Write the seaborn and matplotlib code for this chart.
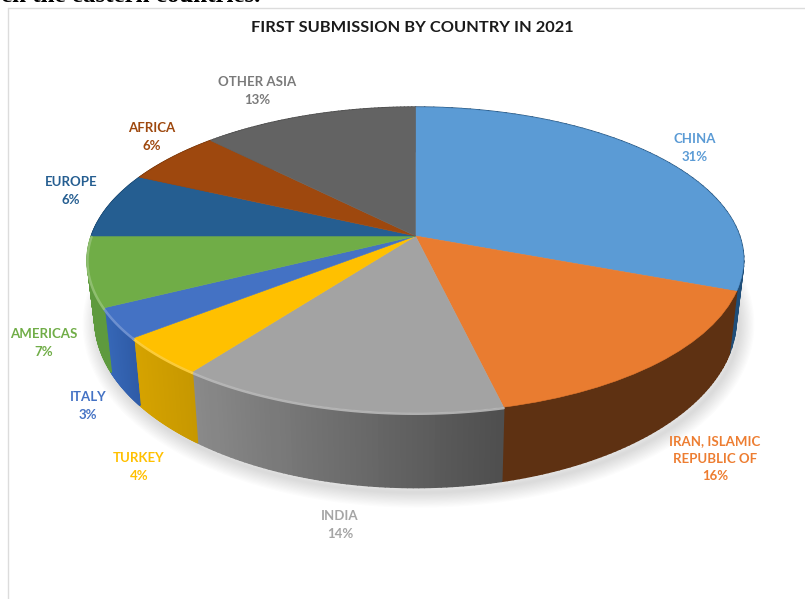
import numpy as np
import matplotlib
matplotlib.use("Agg")
import matplotlib.pyplot as plt
import seaborn as sns
from matplotlib.collections import PolyCollection
from matplotlib.colors import to_rgb
from matplotlib.transforms import Transform

# slice sizes, the printed labels are rounded
categories = ["CHINA", "IRAN, ISLAMIC\nREPUBLIC OF", "INDIA", "TURKEY", "ITALY",
              "AMERICAS", "EUROPE", "AFRICA", "OTHER ASIA"]
slice_values = [30.7, 15.6, 14.0, 4.1, 3.2, 7.4, 6.9, 5.7, 12.4]
percent_labels = ["31%", "16%", "14%", "4%", "3%", "7%", "6%", "6%", "13%"]
title_text = "FIRST SUBMISSION BY COUNTRY IN 2021"
body_text = "ch the eastern countries."

sns.set_theme(style="white")
plt.rcParams["font.family"] = ["Lato", "DejaVu Sans"]

top_colors = sns.color_palette(["#5B9BD5", "#E97C30", "#A3A3A3", "#FFC000", "#4472C4",
                                "#70AD47", "#255E91", "#9E480E", "#636363"])
# side wall colours, left end and right end of each slice
wall_colors = [("#1F4E79", "#1F4E79"), ("#5E3112", "#5E3112"), ("#8A8A8A", "#4E4E4E"),
               ("#D6A300", "#C79800"), ("#3768B8", "#2F5CA8"), ("#5E9A3E", "#5E9A3E"),
               ("#1C4A72", "#1C4A72"), ("#7A380B", "#7A380B"), ("#4A4A4A", "#4A4A4A")]
label_colors = ["#5B9BD5", "#ED7D31", "#A5A5A5", "#FFC000", "#4472C4",
                "#70AD47", "#255E91", "#9E480E", "#7A7A7A"]
label_pos = [(695, 148), (715, 459), (340, 525), (139, 467), (88, 406),
             (44, 343), (71, 191), (152, 137), (257, 91)]

CX, CY = 415.5, 236.0
RX, RY, PERSP = 324.0, 149.0, 0.157


def project(x, y):
    w = 1 + PERSP * y
    return CX + RX * x / w, CY - RY * y / w


def lower(px, py):
    # rim of the bottom face, from the top rim in pixels
    return CX + 0.977 * (px - CX), CY + 1.1 * (py - CY) + 57


class PiePerspective(Transform):
    input_dims = 2
    output_dims = 2
    has_inverse = False
    is_separable = False

    def transform_non_affine(self, values):
        values = np.asarray(values)
        px, py = project(values[:, 0], values[:, 1])
        return np.column_stack([px, py])


fig = plt.figure(figsize=(8.05, 5.99), dpi=100, facecolor="white")
ax = fig.add_axes([0, 0, 1, 1])

wedges, _ = ax.pie(slice_values, startangle=90, counterclock=False, colors=top_colors,
                   wedgeprops={"linewidth": 0.4})
ax.set_aspect("auto")
ax.set_xlim(0, 805)
ax.set_ylim(599, 0)
ax.axis("off")

persp = PiePerspective() + ax.transData
for w, c in zip(wedges, top_colors):
    w.set_transform(persp)
    w.set_edgecolor(c)
    w.set_zorder(5)

# soft shadow under the pie
t = np.radians(np.linspace(0, 360, 361))
sx, sy = lower(*project(np.cos(t), np.sin(t)))
for lw in np.linspace(22, 2, 12):
    ax.fill(sx + 3, sy + 5, facecolor="none", edgecolor="#808080", alpha=0.022, lw=lw, zorder=1)

# side wall, thin strips per slice so the gradient can follow the angle
for w, (c0, c1) in zip(wedges, wall_colors):
    a = np.radians(np.linspace(w.theta1, w.theta2, 60))
    px, py = project(np.cos(a), np.sin(a))
    qx, qy = lower(px, py)
    polys, cols = [], []
    span = max(px.max() - px.min(), 1)
    for i in range(len(a) - 1):
        polys.append([(px[i], py[i]), (px[i + 1], py[i + 1]), (qx[i + 1], qy[i + 1]), (qx[i], qy[i])])
        f = ((px[i] + px[i + 1]) / 2 - px.min()) / span
        cols.append(tuple((1 - f) * np.array(to_rgb(c0)) + f * np.array(to_rgb(c1))))
    ax.add_collection(PolyCollection(polys, facecolors=cols, edgecolors=cols, linewidths=1.3, zorder=2))

# light bevel on the front rim of the lit slices
for i in [2, 3, 4, 5]:
    w = wedges[i]
    a = np.radians(np.linspace(w.theta1, w.theta2, 60))
    a = a[np.sin(a) < 0.05]
    px, py = project(np.cos(a), np.sin(a))
    rim = tuple(0.75 * np.array(top_colors[i]) + 0.25)
    ax.plot(px, py + 1, color=rim, lw=1.8, alpha=0.9, zorder=6)

for name, pct, pos, col in zip(categories, percent_labels, label_pos, label_colors):
    ax.text(pos[0], pos[1], name + "\n" + pct, color=col, ha="center", va="center",
            fontsize=9.5, fontweight="bold", linespacing=1.55, zorder=7)

ax.text(412, 28, title_text, color="#1a1a1a", ha="center", va="center", fontsize=11.8,
        fontweight="bold", zorder=7)

# scanned page around the chart
ax.plot([8, 8], [8, 599], color="#dcdcdc", lw=1, zorder=0)
ax.plot([8, 805], [8, 8], color="#dcdcdc", lw=1, zorder=0)
ax.text(260, 1.5, body_text, ha="right", va="baseline", color="black", fontsize=18,
        family=["Liberation Serif"], fontweight="bold", zorder=7, clip_on=False)

fig.savefig("out.png", dpi=100)
